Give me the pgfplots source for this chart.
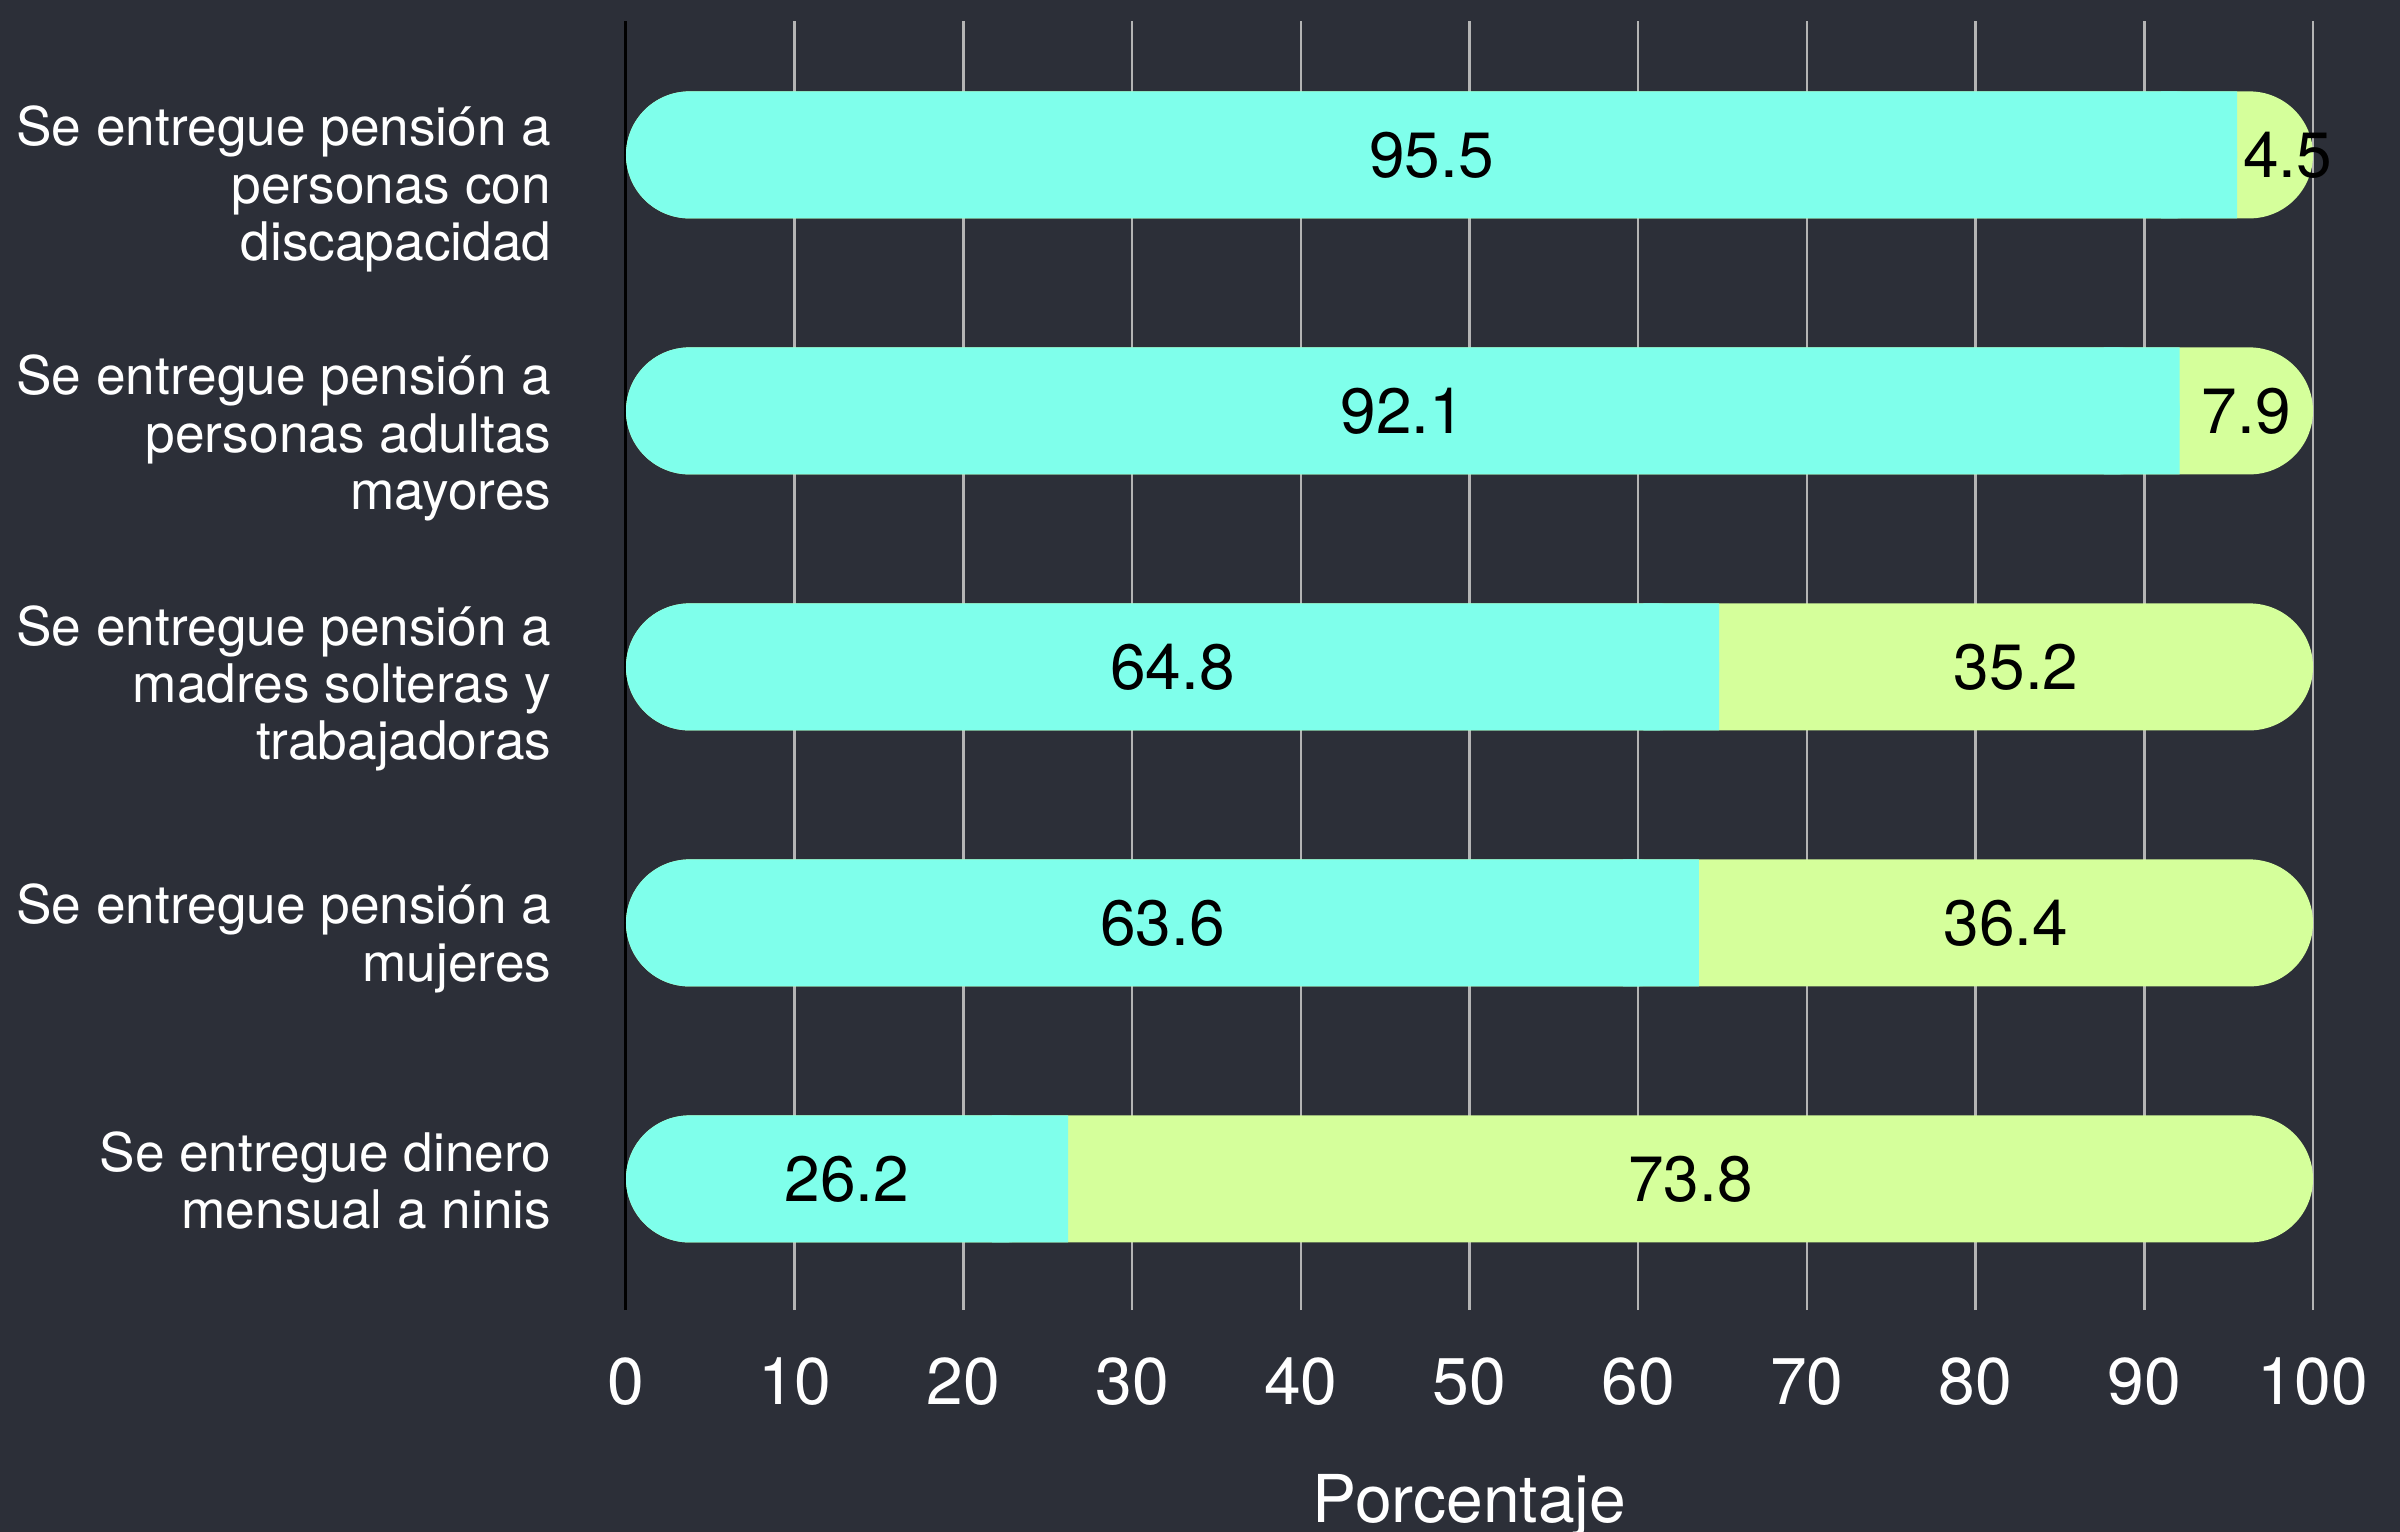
\documentclass[border=0pt]{standalone}
\usepackage{pgfplots}
\pgfplotsset{compat=1.18}
\usepackage{fontspec}
\setmainfont{TeX Gyre Heros}
\definecolor{bg}{HTML}{2C2F38}
\definecolor{cy}{HTML}{7FFFEB}
\definecolor{gr}{HTML}{D5FF9B}
\definecolor{gridc}{HTML}{B4B4B4}
\pgfplotsset{
  base/.style={
    scale only axis, width=421.75pt, height=322.25pt,
    at={(156.5pt,55.5pt)}, anchor=south west,
    xmin=0, xmax=100, ymin=-0.512, ymax=4.523,
    clip=false,
  },
}
\begin{document}
\begin{tikzpicture}
\fill[bg] (0,0) rectangle (600pt,383pt);
\begin{axis}[base,
  axis lines*=left,
  x axis line style={draw=none},
  y axis line style={black, line width=0.75pt},
  xtick={0,10,...,100},
  xmajorgrids,
  major grid style={gridc, line width=0.6pt},
  xtick style={draw=none}, ytick style={draw=none},
  /pgf/number format/assume math mode=true,
  xticklabel style={text=white, font=\fontsize{16.5}{19}\selectfont, inner sep=0pt, anchor=north, yshift=-11.75pt},
  ytick={-0.006,0.939,1.916,2.893,3.867},
  yticklabels={{Se entregue dinero\\mensual a ninis},
               {Se entregue pensión a\\mujeres},
               {Se entregue pensión a\\madres solteras y\\trabajadoras},
               {Se entregue pensión a\\personas adultas\\mayores},
               {Se entregue pensión a\\personas con\\discapacidad}},
  yticklabel style={text=white, align=right, font=\fontsize{13.3}{14.35}\selectfont, inner sep=0pt, anchor=east, xshift=-18.5pt},
  xlabel={Porcentaje},
  xlabel style={text=white, font=\fontsize{16.5}{19}\selectfont, inner sep=0pt, anchor=base, at={(axis description cs:0.5,0)}, yshift=-53pt},
]
\addplot[xbar, bar shift=0pt, bar width=31.75pt, fill=gr, draw=none, rounded corners=15.875pt]
  coordinates {(100,0) (100,1) (100,2) (100,3) (100,4)};
\addplot[xbar, bar shift=0pt, bar width=31.75pt, fill=cy, draw=none, rounded corners=15.875pt]
  coordinates {(26.2,0) (63.6,1) (64.8,2) (92.1,3) (95.5,4)};
\end{axis}
\begin{axis}[base, hide axis, xbar stacked, bar width=31.75pt]
\addplot[draw=none, fill=none] coordinates {(21.7,0) (59.1,1) (60.3,2) (87.6,3) (91.0,4)};
\addplot[fill=cy, draw=none] coordinates {(4.5,0) (4.5,1) (4.5,2) (4.5,3) (4.5,4)};
\end{axis}
\begin{axis}[base, hide axis]
\addplot[draw=none, mark=none, nodes near coords, point meta=explicit symbolic,
  nodes near coords align={anchor=center},
  every node near coord/.append style={anchor=center, text=black, font=\fontsize{16}{18}\selectfont, inner sep=0pt}]
  coordinates {(13.1,0) [26.2] (31.8,1) [63.6] (32.4,2) [64.8] (46.05,3) [92.1] (47.75,4) [95.5]
               (63.1,0) [73.8] (81.8,1) [36.4] (82.4,2) [35.2] (96.05,3) [7.9] (98.5,4) [4.5]};
\end{axis}
\pgfresetboundingbox
\path (0,0) rectangle (600pt,383pt);
\end{tikzpicture}
\end{document}
